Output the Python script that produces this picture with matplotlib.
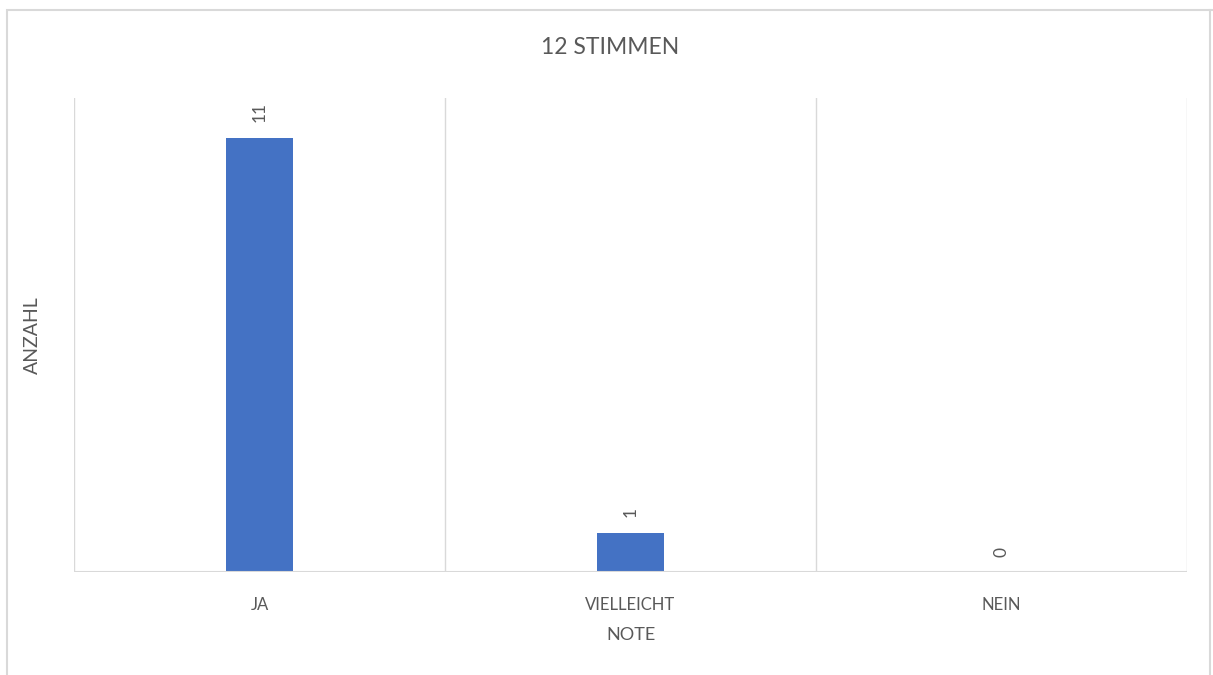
import matplotlib
matplotlib.use("Agg")
import matplotlib.pyplot as plt
from matplotlib.patches import Rectangle

categories = ["JA", "VIELLEICHT", "NEIN"]
values = [11, 1, 0]
title = "12 STIMMEN"
xlabel = "NOTE"
ylabel = "ANZAHL"

plt.rcParams['font.family'] = ['Lato', 'DejaVu Sans']
gray = "#595959"
grid = "#d9d9d9"

W, H = 1213, 675
fig = plt.figure(figsize=(W/100, H/100), dpi=100)
fig.patches.append(Rectangle((7/W, -0.05), 1.2, 1 - 10/H + 0.05, transform=fig.transFigure,
                             fill=False, edgecolor=grid, linewidth=1.5))
fig.add_artist(plt.Line2D([1210/W, 1210/W], [0, 1 - 10/H], transform=fig.transFigure, color=grid, lw=1.5))

ax = fig.add_axes([74/W, (H-572)/H, (1187-74)/W, (572-98)/H])
x = list(range(len(categories)))
ax.bar(x, values, width=0.183, color="#4472C4", zorder=3)
ax.set_xlim(-0.5, len(categories) - 0.5)
ax.set_ylim(0, 12)
for b in [i - 0.5 for i in range(len(categories) + 1)]:
    ax.axvline(b, color=grid, lw=1, zorder=1)
for s in ax.spines.values():
    s.set_visible(False)
ax.axhline(0, color=grid, lw=1.5, zorder=4)
ax.set_yticks([])
ax.set_xticks(x)
ax.set_xticklabels(categories, color=gray, fontsize=12)
ax.tick_params(axis='x', length=0, pad=18)
for xi, v in zip(x, values):
    ax.annotate(str(v), (xi, v), xytext=(0, 11), textcoords='offset points',
                rotation=90, ha='center', va='bottom', color=gray, fontsize=12.5)
ax.set_xlabel(xlabel, color=gray, fontsize=13, labelpad=10)
ax.set_ylabel(ylabel, color=gray, fontsize=14, labelpad=24)
fig.text(610/W, 1 - 48/H, title, ha='center', va='center', color=gray, fontsize=16.5)
fig.savefig("out.png", dpi=100)
